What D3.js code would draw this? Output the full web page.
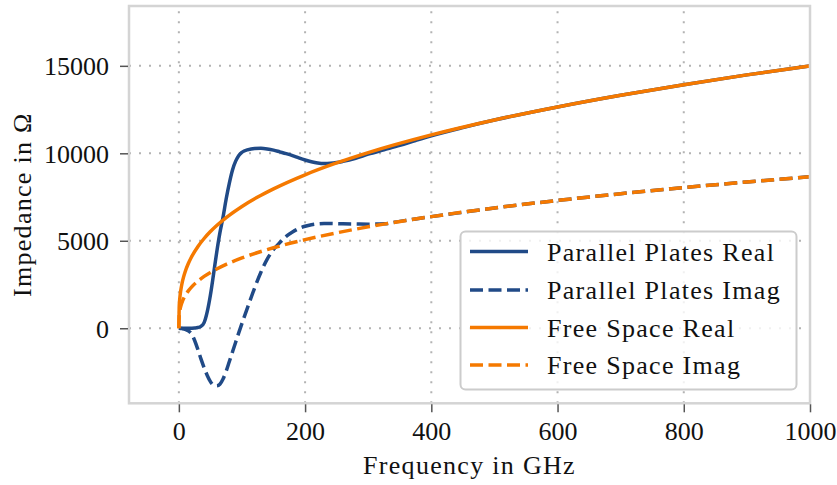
<!DOCTYPE html>
<html>
<head>
<meta charset="utf-8">
<script src="https://cdn.jsdelivr.net/npm/d3@7"></script>
<style>
  html, body { margin: 0; padding: 0; background: #ffffff; }
  svg { display: block; }
  text { font-family: "Liberation Serif", "Times New Roman", serif; fill: #111; }
</style>
</head>
<body>
<svg id="chart" width="837" height="485"></svg>
<script>
// Frequency grid (GHz) and impedance values (Ohm)
const ppFreq = [0, 5, 10, 15, 20, 25, 30, 35, 40, 45, 50, 55, 60, 65, 70, 75, 80, 85, 90, 95,
  100, 110, 120, 130, 140, 150, 160, 170, 180, 190, 200, 210, 220, 230, 240, 250, 260, 280,
  300, 325, 350, 375, 400, 450, 500, 600, 700, 800, 900, 1000];
const ppReal = [0, 0, 0, 0, 5, 15, 40, 110, 320, 950, 1900, 3100, 4350, 5450, 6350, 7400,
  8300, 9050, 9550, 9880, 10060, 10210, 10270, 10285, 10250, 10180, 10080, 9980, 9870, 9740,
  9620, 9520, 9450, 9420, 9430, 9470, 9540, 9720, 9950, 10200, 10450, 10730, 11000, 11470,
  11900, 12651, 13319, 13924, 14482, 15000];
const ppImag = [0, -20, -60, -150, -320, -700, -1200, -1750, -2250, -2700, -3050, -3250, -3290,
  -3200, -2900, -2450, -1900, -1350, -800, -250, 280, 1300, 2300, 3200, 3950, 4500, 4900, 5250,
  5500, 5700, 5830, 5920, 5970, 5990, 5990, 5980, 5970, 5960, 5950, 5970, 6110, 6250, 6381,
  6630, 6874, 7304, 7690, 8039, 8362, 8660];

const fsFreq = [0, 0.5, 1, 2, 3, 5, 7.5, 10, 15, 20, 30, 40, 50, 60, 75, 100, 125, 150, 200,
  250, 300, 400, 500, 600, 700, 800, 900, 1000];
const fsReal = [0, 1191, 1500, 1890, 2163, 2565, 2936, 3232, 3699, 4072, 4661, 5130, 5526,
  5872, 6326, 6963, 7500, 7969, 8772, 9449, 10041, 11052, 11906, 12651, 13319, 13924, 14482, 15000];
const fsImag = [0, 688, 866, 1091, 1249, 1481, 1695, 1866, 2136, 2351, 2691, 2962, 3190, 3390,
  3652, 4020, 4330, 4601, 5065, 5455, 5797, 6381, 6874, 7304, 7690, 8039, 8361, 8660];

const xTicks = [0, 200, 400, 600, 800, 1000];
const yTicks = [0, 5000, 10000, 15000];

const seriesNames = ["Parallel Plates Real", "Parallel Plates Imag", "Free Space Real", "Free Space Imag"];
const seriesColors = ["#204a87", "#204a87", "#f57900", "#f57900"];
const seriesDashed = [false, true, false, true];

const series = [
  { name: seriesNames[0], x: ppFreq, y: ppReal },
  { name: seriesNames[1], x: ppFreq, y: ppImag },
  { name: seriesNames[2], x: fsFreq, y: fsReal },
  { name: seriesNames[3], x: fsFreq, y: fsImag }
];

const svg = d3.select("#chart");
const plot = { left: 129, right: 810, top: 6, bottom: 403.3 };

const x = d3.scaleLinear().domain([-79, 1000]).range([plot.left, plot.right]);
const y = d3.scaleLinear().domain([-4290, 18420]).range([plot.bottom, plot.top]);

const clipId = "plot-clip";
svg.append("defs").append("clipPath").attr("id", clipId)
  .append("rect")
  .attr("x", plot.left).attr("y", plot.top)
  .attr("width", plot.right - plot.left).attr("height", plot.bottom - plot.top);

// dotted grid
const grid = svg.append("g").attr("class", "grid");
grid.selectAll("line.gx").data(xTicks).join("line")
  .attr("class", "gx")
  .attr("x1", d => x(d)).attr("x2", d => x(d))
  .attr("y1", plot.bottom).attr("y2", plot.top)
  .attr("stroke", "#b3b3b3").attr("stroke-width", 2)
  .attr("stroke-dasharray", "2,8");
grid.selectAll("line.gy").data(yTicks).join("line")
  .attr("class", "gy")
  .attr("x1", plot.left).attr("x2", plot.right)
  .attr("y1", d => y(d)).attr("y2", d => y(d))
  .attr("stroke", "#b3b3b3").attr("stroke-width", 2)
  .attr("stroke-dasharray", "2,8");

// curves
const line = d3.line().curve(d3.curveMonotoneX);
const curves = svg.append("g").attr("clip-path", `url(#${clipId})`);
series.forEach((s, i) => {
  const pts = s.x.map((f, k) => [x(f), y(s.y[k])]);
  curves.append("path")
    .attr("d", line(pts))
    .attr("fill", "none")
    .attr("stroke", seriesColors[i])
    .attr("stroke-width", 3.5)
    .attr("stroke-linejoin", "round")
    .attr("stroke-dasharray", seriesDashed[i] ? "13,5.5" : null);
});

// frame
svg.append("rect")
  .attr("x", plot.left).attr("y", plot.top)
  .attr("width", plot.right - plot.left).attr("height", plot.bottom - plot.top)
  .attr("fill", "none").attr("stroke", "#d4d4d4").attr("stroke-width", 2.5);

// axes
const xAxis = d3.axisBottom(x).tickValues(xTicks).tickSize(8).tickPadding(10)
  .tickFormat(d3.format("d"));
const gx = svg.append("g").attr("transform", `translate(0,${plot.bottom + 1})`).call(xAxis);
gx.select(".domain").remove();
gx.selectAll(".tick line").attr("stroke", "#555").attr("stroke-width", 1.5);
gx.selectAll(".tick text").attr("font-size", 26).attr("fill", "#111")
  .attr("font-family", "Liberation Serif, serif").attr("dy", null).attr("y", 36);

const yAxis = d3.axisLeft(y).tickValues(yTicks).tickSize(8).tickPadding(11)
  .tickFormat(d3.format("d"));
const gy = svg.append("g").attr("transform", `translate(${plot.left - 1},0)`).call(yAxis);
gy.select(".domain").remove();
gy.selectAll(".tick line").attr("stroke", "#555").attr("stroke-width", 1.5);
gy.selectAll(".tick text").attr("font-size", 26).attr("fill", "#111")
  .attr("font-family", "Liberation Serif, serif").attr("dy", "0.34em");

// axis titles
svg.append("text")
  .attr("x", (plot.left + plot.right) / 2).attr("y", 474)
  .attr("text-anchor", "middle").attr("font-size", 26)
  .style("letter-spacing", "1.3px")
  .text("Frequency in GHz");
svg.append("text")
  .attr("transform", `translate(31,${(plot.top + plot.bottom) / 2}) rotate(-90)`)
  .attr("text-anchor", "middle").attr("font-size", 26)
  .style("letter-spacing", "1.3px")
  .text("Impedance in Ω");

// legend
const legend = svg.append("g");
legend.append("rect")
  .attr("x", 460.5).attr("y", 231.5).attr("width", 336).attr("height", 158)
  .attr("rx", 5).attr("ry", 5)
  .attr("fill", "#ffffff").attr("fill-opacity", 0.8)
  .attr("stroke", "#cccccc").attr("stroke-width", 2);
const rowY = [251.5, 290, 327.5, 365];
series.forEach((s, i) => {
  legend.append("line")
    .attr("x1", 470).attr("x2", 528)
    .attr("y1", rowY[i]).attr("y2", rowY[i])
    .attr("stroke", seriesColors[i]).attr("stroke-width", 3.5)
    .attr("stroke-dasharray", seriesDashed[i] ? "13,5.5" : null);
  legend.append("text")
    .attr("x", 547).attr("y", rowY[i] + 9)
    .attr("font-size", 26)
    .style("letter-spacing", "1.3px")
    .text(s.name);
});
</script>
</body>
</html>
